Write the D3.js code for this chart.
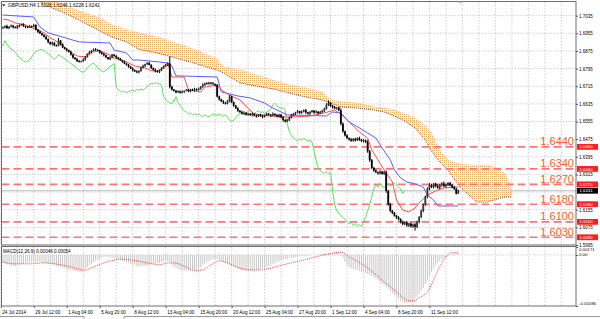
<!DOCTYPE html>
<html>
<head>
<meta charset="utf-8">
<script src="https://cdnjs.cloudflare.com/ajax/libs/d3/7.8.5/d3.min.js"></script>
<style>
body { margin: 0; background: #fff; }
svg { display: block; }
text { font-family: "Liberation Sans", Arial, sans-serif; }
</style>
</head>
<body>
<script>
// GBPUSD H4, 24 Jul - 12 Sep 2014

const closes = [
  1.6982,1.6988,1.6978,1.6985,1.6990,1.6983,1.6979,1.6986,1.6992,1.6996,
  1.6988,1.6984,1.6981,1.6987,1.6985,1.6992,1.6972,1.6962,1.6955,1.6948,
  1.6940,1.6928,1.6915,1.6906,1.6912,1.6900,1.6898,1.6922,1.6905,1.6892,
  1.6884,1.6878,1.6870,1.6858,1.6845,1.6838,1.6830,1.6826,1.6828,1.6836,
  1.6848,1.6862,1.6870,1.6876,1.6882,1.6880,1.6878,1.6868,1.6862,1.6856,
  1.6846,1.6838,1.6845,1.6858,1.6852,1.6846,1.6840,1.6832,1.6826,1.6818,
  1.6812,1.6804,1.6796,1.6788,1.6782,1.6778,1.6784,1.6800,1.6808,1.6815,
  1.6820,1.6812,1.6798,1.6790,1.6784,1.6780,1.6788,1.6796,1.6805,1.6810,
  1.6818,1.6712,1.6700,1.6694,1.6688,1.6692,1.6686,1.6690,1.6694,1.6698,
  1.6692,1.6700,1.6696,1.6702,1.6698,1.6704,1.6712,1.6722,1.6728,1.6726,
  1.6731,1.6728,1.6725,1.6720,1.6668,1.6655,1.6646,1.6640,1.6636,1.6648,
  1.6668,1.6642,1.6628,1.6615,1.6604,1.6598,1.6590,1.6594,1.6586,1.6590,
  1.6584,1.6590,1.6582,1.6578,1.6586,1.6580,1.6576,1.6584,1.6590,1.6586,
  1.6582,1.6590,1.6584,1.6578,1.6586,1.6574,1.6562,1.6556,1.6560,1.6574,
  1.6584,1.6590,1.6596,1.6602,1.6594,1.6600,1.6606,1.6596,1.6590,1.6598,
  1.6604,1.6596,1.6600,1.6592,1.6598,1.6604,1.6612,1.6630,1.6638,1.6626,
  1.6620,1.6614,1.6618,1.6606,1.6545,1.6510,1.6492,1.6480,1.6474,1.6468,
  1.6476,1.6470,1.6480,1.6472,1.6466,1.6470,1.6462,1.6420,1.6380,1.6345,
  1.6332,1.6325,1.6320,1.6328,1.6318,1.6325,1.6240,1.6180,1.6150,1.6140,
  1.6128,1.6120,1.6112,1.6100,1.6090,1.6098,1.6084,1.6092,1.6080,1.6088,
  1.6078,1.6100,1.6122,1.6150,1.6178,1.6215,1.6250,1.6268,1.6258,1.6272,
  1.6262,1.6255,1.6266,1.6274,1.6262,1.6268,1.6276,1.6266,1.6258,1.6250,
  1.6228,1.6241
];
const firstOpen = 1.6978;

// wick lengths in pips above / below the body
const hiWick = [
  4,3,6,2,5,3,4,7,3,3,5,2,4,6,3,5,4,3,6,2,
  3,5,4,2,6,3,4,12,3,5,2,4,3,6,3,2,5,4,3,6,
  4,2,5,3,4,6,3,2,5,4,3,2,6,4,3,5,2,4,3,5,
  3,4,2,5,3,6,4,3,5,2,4,6,3,2,5,4,3,5,4,6,
  5,32,6,3,4,5,3,6,2,4,5,3,4,6,3,5,4,6,3,5,
  4,3,6,2,5,4,3,6,4,5,7,3,4,2,5,3,6,4,3,5,
  4,6,3,5,2,4,6,3,5,4,3,6,2,5,4,3,5,4,6,3,
  5,4,3,6,2,5,4,6,3,5,4,3,6,2,5,4,6,8,12,5,
  4,6,3,5,8,6,4,5,3,6,4,5,3,6,4,5,3,8,6,5,
  4,6,3,5,4,6,7,5,6,4,5,3,6,4,5,3,6,4,5,4,
  6,5,4,6,5,4,6,7,5,4,6,8,5,6,9,5,4,6,5,6,
  4,5
];
const loWick = [
  3,5,2,4,3,6,2,4,5,3,4,6,3,2,5,3,4,6,3,5,
  4,2,5,3,6,4,3,2,5,4,3,6,2,4,5,3,6,4,3,2,
  5,3,4,6,2,4,3,5,4,6,3,2,5,4,3,6,4,2,5,3,
  4,5,3,6,2,4,5,3,4,6,3,2,5,4,6,3,5,4,2,3,
  4,7,5,3,6,4,5,3,6,2,4,5,3,6,4,3,5,4,6,3,
  4,5,3,6,4,5,3,6,4,3,5,4,6,3,5,4,3,6,4,5,
  3,6,4,5,3,4,6,3,5,4,6,3,5,4,6,5,8,6,4,3,
  5,4,6,3,5,4,3,6,4,5,3,6,4,5,3,4,6,3,5,4,
  6,3,5,4,8,6,5,4,6,5,4,6,3,5,4,6,5,7,8,6,
  5,4,6,5,4,6,8,7,6,5,4,6,5,7,6,5,6,8,6,7,
  18,6,7,5,6,5,8,6,5,7,6,5,8,6,5,7,6,5,6,5,
  4,0
];

// Ichimoku lines, [bar, price]
const tenkan = [
  [0,1.7020],[3,1.7015],[6,1.7002],[11,1.6993],[13,1.6984],[17,1.6970],[20,1.6957],
  [23,1.6934],[25,1.6925],[28,1.6907],[30,1.6889],[33,1.6870],[36,1.6852],[40,1.6848],
  [43,1.6870],[47,1.6875],[51,1.6861],[54,1.6843],[59,1.6830],[64,1.6807],[69,1.6798],
  [71,1.6789],[75,1.6780],[80,1.6820],[82,1.6757],[88,1.6757],[90,1.6698],[96,1.6689],
  [98,1.6711],[104,1.6721],[106,1.6698],[110,1.6675],[115,1.6653],[119,1.6616],
  [122,1.6589],[130,1.6580],[139,1.6575],[149,1.6580],[156,1.6594],[161,1.6607],
  [164,1.6589],[168,1.6553],[173,1.6508],[177,1.6480],[179,1.6426],[182,1.6381],
  [185,1.6335],[189,1.6281],[191,1.6199],[194,1.6154],[197,1.6145],[200,1.6163],
  [202,1.6186],[206,1.6222],[210,1.6240],[214,1.6254],[221,1.6258]
];
const kijun = [
  [0,1.7038],[15,1.7029],[18,1.6984],[22,1.6957],[29,1.6938],[37,1.6916],[52,1.6911],
  [54,1.6879],[60,1.6866],[63,1.6834],[66,1.6834],[76,1.6825],[80,1.6820],[82,1.6807],
  [84,1.6762],[104,1.6757],[106,1.6689],[114,1.6671],[120,1.6662],[127,1.6639],
  [131,1.6616],[138,1.6585],[157,1.6580],[160,1.6598],[164,1.6594],[168,1.6553],
  [173,1.6526],[177,1.6503],[181,1.6480],[184,1.6435],[188,1.6381],[190,1.6335],
  [193,1.6299],[196,1.6281],[200,1.6272],[204,1.6258],[206,1.6222],[209,1.6199],
  [211,1.6172],[221,1.6172]
];
const chikouShift = 26;

// cloud, [bar, upper, lower]
const cloud = [
  [13,1.7152,1.7120],[19,1.7129,1.7093],[23,1.7106,1.7074],[31,1.7079,1.7043],
  [37,1.7056,1.7015],[47,1.7025,1.6966],[53,1.6993,1.6938],[60,1.6970,1.6916],
  [66,1.6957,1.6882],[75,1.6938,1.6866],[82,1.6916,1.6848],[91,1.6889,1.6825],
  [99,1.6857,1.6802],[104,1.6839,1.6789],[107,1.6802,1.6775],[115,1.6789,1.6730],
  [123,1.6766,1.6716],[131,1.6743,1.6703],[139,1.6721,1.6684],[147,1.6707,1.6666],
  [155,1.6689,1.6653],[159,1.6653,1.6639],[164,1.6644,1.6621],[172,1.6639,1.6616],
  [180,1.6621,1.6607],[185,1.6616,1.6598],[190,1.6607,1.6580],[195,1.6589,1.6557],
  [200,1.6571,1.6526],[205,1.6535,1.6471],[208,1.6499,1.6421],[212,1.6426,1.6372],
  [216,1.6381,1.6335],[221,1.6363,1.6267],[226,1.6358,1.6222],[230,1.6354,1.6190],
  [235,1.6358,1.6190],[240,1.6344,1.6204],[244,1.6313,1.6213],[246,1.6267,1.6213],
  [247,1.6222,1.6213]
];

const levels = [1.6440, 1.6340, 1.6270, 1.6180, 1.6100, 1.6030];
const bid = 1.6241;

const priceTicks = [1.7035,1.6955,1.6875,1.6795,1.6715,1.6635,1.6555,1.6475,1.6395,1.6315,1.6235,1.6155,1.6075,1.5995];
const hiddenTick = 1.6235; // covered by the bid box
const dateBars = [-1,15,31,47,63,79,95,111,127,143,159,175,191,207];
const dateLabels = ['24 Jul 2014','29 Jul 12:00','1 Aug 04:00','5 Aug 20:00','8 Aug 12:00','13 Aug 04:00',
  '15 Aug 20:00','20 Aug 12:00','25 Aug 04:00','27 Aug 20:00','1 Sep 12:00','4 Sep 04:00','8 Sep 20:00','11 Sep 12:00'];

// MACD(12,26,9): histogram per bar, signal [bar, value]
const macdHist = [
  -0.0017,-0.0019,-0.0021,-0.0021,-0.0024,-0.0024,-0.0024,-0.0021,-0.0021,-0.0019,
  -0.0019,-0.0017,-0.0017,-0.0015,-0.0015,-0.0015,-0.0015,-0.0015,-0.0015,-0.0017,
  -0.0017,-0.0017,-0.0019,-0.0019,-0.0021,-0.0021,-0.0024,-0.0024,-0.0026,-0.0028,
  -0.0028,-0.0030,-0.0032,-0.0032,-0.0034,-0.0034,-0.0036,-0.0036,-0.0034,-0.0032,
  -0.0030,-0.0026,-0.0021,-0.0019,-0.0015,-0.0013,-0.0011,-0.0009,-0.0006,-0.0004,
  -0.0004,-0.0004,-0.0006,-0.0006,-0.0006,-0.0009,-0.0009,-0.0011,-0.0013,-0.0015,
  -0.0015,-0.0017,-0.0019,-0.0021,-0.0021,-0.0024,-0.0025,-0.0024,-0.0023,-0.0024,
  -0.0023,-0.0021,-0.0021,-0.0019,-0.0019,-0.0017,-0.0017,-0.0015,-0.0015,-0.0013,
  -0.0013,-0.0015,-0.0021,-0.0026,-0.0028,-0.0030,-0.0032,-0.0034,-0.0034,-0.0034,
  -0.0034,-0.0034,-0.0032,-0.0032,-0.0030,-0.0028,-0.0026,-0.0021,-0.0019,-0.0015,
  -0.0013,-0.0011,-0.0009,-0.0009,-0.0009,-0.0011,-0.0013,-0.0015,-0.0017,-0.0019,
  -0.0021,-0.0024,-0.0026,-0.0028,-0.0030,-0.0030,-0.0032,-0.0032,-0.0034,-0.0034,
  -0.0034,-0.0034,-0.0034,-0.0032,-0.0032,-0.0030,-0.0028,-0.0028,-0.0026,-0.0024,
  -0.0021,-0.0019,-0.0017,-0.0015,-0.0013,-0.0011,-0.0011,-0.0009,-0.0009,-0.0006,
  -0.0006,-0.0006,-0.0004,-0.0004,-0.0004,-0.0002,-0.0002,-0.0002,-0.0002,0,
  0,0,-0.0001,0.0001,0.0002,0.0002,0.0003,0.0003,0.0004,0.0004,
  0.0003,0.0003,0.0002,0,-0.0002,-0.0006,-0.0015,-0.0021,-0.0026,-0.0028,
  -0.0030,-0.0032,-0.0032,-0.0034,-0.0036,-0.0036,-0.0039,-0.0041,-0.0043,-0.0045,
  -0.0047,-0.0049,-0.0054,-0.0058,-0.0062,-0.0064,-0.0069,-0.0073,-0.0077,-0.0082,
  -0.0086,-0.0090,-0.0094,-0.0099,-0.0101,-0.0103,-0.0103,-0.0102,-0.0101,-0.0099,
  -0.0094,-0.0090,-0.0084,-0.0077,-0.0071,-0.0062,-0.0054,-0.0045,-0.0036,-0.0028,
  -0.0021,-0.0017,-0.0013,-0.0009,-0.0006,-0.0004,-0.0002,0,0.0002,0.0003,
  0.0004,0.00046
];
const macdSignal = [
  [0,-0.0015],[6,-0.0019],[13,-0.0019],[20,-0.0017],[28,-0.0021],[35,-0.0028],[39,-0.0033],
  [45,-0.0024],[52,-0.0013],[57,-0.0009],[63,-0.0011],[70,-0.0017],[76,-0.0021],[80,-0.0017],
  [83,-0.0017],[88,-0.0024],[93,-0.0033],[97,-0.0032],[101,-0.0021],[105,-0.0013],
  [110,-0.0019],[115,-0.0028],[120,-0.0032],[125,-0.0032],[130,-0.0028],[136,-0.0021],
  [144,-0.0013],[152,-0.0004],[160,0.0004],[164,0.0006],[168,-0.0004],[177,-0.0028],
  [184,-0.0054],[191,-0.0079],[196,-0.0097],[199,-0.0099],[202,-0.0092],[206,-0.0079],
  [209,-0.0054],[212,-0.0025],[215,-0.0004],[218,0.0005],[221,0.00054]
];
const macdMax = 0.00171, macdMin = -0.01096;

const width = 600;
const height = 319;
const left = 1.5, right = 576;
const mainTop = 2, mainBottom = 245;
const macdTop = 247, macdBottom = 306;

const x = d3.scaleLinear().domain([-1, 278]).range([0.8, 575.8]);
const y = d3.scaleLinear().domain([1.5995, 1.7097]).range([mainBottom, mainTop]);
const ym = d3.scaleLinear().domain([macdMin, macdMax]).range([macdBottom, macdTop]);

const svg = d3.select('body')
    .append('svg')
    .attr('width', width)
    .attr('height', height);

const defs = svg.append('defs');
defs.append('clipPath').attr('id', 'clipMain')
    .append('rect').attr('x', left).attr('y', mainTop).attr('width', right - left).attr('height', mainBottom - mainTop);
defs.append('clipPath').attr('id', 'clipMacd')
    .append('rect').attr('x', left).attr('y', macdTop).attr('width', right - left).attr('height', macdBottom - macdTop);
// dotted fill of the cloud
const pat = defs.append('pattern').attr('id', 'dots')
    .attr('width', 2).attr('height', 2).attr('patternUnits', 'userSpaceOnUse');
pat.append('rect').attr('x', 0).attr('y', 0).attr('width', 1).attr('height', 1).attr('fill', '#f5aa62');

// grid
const grid = svg.append('g')
    .attr('stroke', '#c4c4c4')
    .attr('stroke-width', 0.8)
    .attr('stroke-dasharray', '1.5,1.5');
const gridBars = d3.range(-1, 279, 8);
grid.selectAll('.vg1').data(gridBars).enter().append('line')
    .attr('x1', d => x(d)).attr('x2', d => x(d))
    .attr('y1', mainTop).attr('y2', mainBottom);
grid.selectAll('.vg2').data(gridBars).enter().append('line')
    .attr('x1', d => x(d)).attr('x2', d => x(d))
    .attr('y1', macdTop).attr('y2', macdBottom);
grid.selectAll('.hg').data(priceTicks).enter().append('line')
    .attr('x1', left).attr('x2', right)
    .attr('y1', d => y(d)).attr('y2', d => y(d));
grid.append('line')
    .attr('x1', left).attr('x2', right)
    .attr('y1', ym(0)).attr('y2', ym(0));

const main = svg.append('g').attr('clip-path', 'url(#clipMain)');

// cloud
main.append('path')
    .datum(cloud)
    .attr('fill', 'url(#dots)')
    .attr('d', d3.area().x(d => x(d[0])).y0(d => y(d[2])).y1(d => y(d[1])));
main.append('path')
    .datum(cloud)
    .attr('fill', 'none')
    .attr('stroke', '#f5aa62')
    .attr('stroke-width', 0.8)
    .attr('stroke-dasharray', '1,1')
    .attr('d', d3.line().x(d => x(d[0])).y(d => y(d[1])));
main.append('path')
    .datum(cloud)
    .attr('fill', 'none')
    .attr('stroke', '#3a3a3a')
    .attr('stroke-width', 0.9)
    .attr('stroke-dasharray', '1,1')
    .attr('d', d3.line().x(d => x(d[0])).y(d => y(d[2])));

// support / resistance levels
main.selectAll('.lvl').data(levels).enter().append('line')
    .attr('x1', left).attr('x2', right)
    .attr('y1', d => y(d)).attr('y2', d => y(d))
    .attr('stroke', '#ff7373')
    .attr('stroke-width', 1.6)
    .attr('stroke-dasharray', '8,4');

// bid line
main.append('line')
    .attr('x1', left).attr('x2', right)
    .attr('y1', y(bid)).attr('y2', y(bid))
    .attr('stroke', '#bdbdbd').attr('stroke-width', 1);

// chikou
main.append('path')
    .datum(closes)
    .attr('fill', 'none')
    .attr('stroke', '#55e355')
    .attr('stroke-width', 1)
    .attr('d', d3.line().x((d, i) => x(i - chikouShift)).y(d => y(d)));

main.append('path')
    .datum(kijun)
    .attr('fill', 'none')
    .attr('stroke', '#5c5cff')
    .attr('stroke-width', 1)
    .attr('d', d3.line().x(d => x(d[0])).y(d => y(d[1])));

main.append('path')
    .datum(tenkan)
    .attr('fill', 'none')
    .attr('stroke', '#ff4a4a')
    .attr('stroke-width', 1)
    .attr('d', d3.line().x(d => x(d[0])).y(d => y(d[1])));

// candles
const bars = closes.map((c, i) => {
    const o = i === 0 ? firstOpen : closes[i - 1];
    return {
        i: i, o: o, c: c,
        h: Math.max(o, c) + hiWick[i] * 1e-4,
        l: Math.min(o, c) - loWick[i] * 1e-4
    };
});
const cg = main.append('g');
cg.selectAll('.wick').data(bars).enter().append('line')
    .attr('x1', d => x(d.i)).attr('x2', d => x(d.i))
    .attr('y1', d => y(d.h)).attr('y2', d => y(d.l))
    .attr('stroke', '#000').attr('stroke-width', 1);
cg.selectAll('.body').data(bars).enter().append('rect')
    .attr('x', d => x(d.i) - 0.9)
    .attr('width', 1.8)
    .attr('y', d => y(Math.max(d.o, d.c)))
    .attr('height', d => Math.max(0.8, Math.abs(y(d.o) - y(d.c))))
    .attr('fill', d => d.c >= d.o ? '#3a3a3a' : '#000');

// level captions
svg.selectAll('.lvlText').data(levels).enter().append('text')
    .attr('x', 574)
    .attr('y', d => y(d) - 1.5)
    .attr('text-anchor', 'end')
    .attr('font-size', 11)
    .attr('fill', '#ff5a2a')
    .text(d => d.toFixed(4));

// MACD
const mg = svg.append('g').attr('clip-path', 'url(#clipMacd)');
mg.selectAll('.hist').data(macdHist).enter().append('rect')
    .attr('x', (d, i) => x(i) - 0.5)
    .attr('width', 1)
    .attr('y', d => Math.min(ym(d), ym(0)))
    .attr('height', d => Math.abs(ym(d) - ym(0)))
    .attr('fill', '#c8c8c8');
mg.append('path')
    .datum(macdSignal)
    .attr('fill', 'none')
    .attr('stroke', '#ff3c3c')
    .attr('stroke-width', 1)
    .attr('stroke-dasharray', '1,1')
    .attr('d', d3.line().curve(d3.curveMonotoneX).x(d => x(d[0])).y(d => ym(d[1])));

// frames
svg.append('rect')
    .attr('x', left).attr('y', 1.5).attr('width', right - left).attr('height', mainBottom - 1.5)
    .attr('fill', 'none').attr('stroke', '#6e6e6e').attr('stroke-width', 1);
svg.append('rect')
    .attr('x', left).attr('y', 246.5).attr('width', right - left).attr('height', macdBottom - 246.5)
    .attr('fill', 'none').attr('stroke', '#6e6e6e').attr('stroke-width', 1);

// price axis
const pAxis = svg.append('g')
    .attr('transform', 'translate(' + right + ',0)')
    .call(d3.axisRight(y).tickValues(priceTicks.filter(d => d !== hiddenTick))
        .tickFormat(d3.format('.4f')).tickSize(2).tickPadding(1));
pAxis.select('.domain').remove();
pAxis.attr('font-size', 4.5).attr('font-family', '"Liberation Sans", Arial, sans-serif');
pAxis.selectAll('line').attr('stroke', '#555');

// price boxes on the axis
svg.selectAll('.box').data(levels).enter().append('rect')
    .attr('x', 577).attr('y', d => y(d) - 2.9)
    .attr('width', 21).attr('height', 5.8)
    .attr('fill', '#ff1e1e');
svg.selectAll('.boxText').data(levels).enter().append('text')
    .attr('x', 579.5).attr('y', d => y(d) + 1.6)
    .attr('font-size', 4.3).attr('fill', '#fff')
    .text(d => d.toFixed(4));
svg.append('rect')
    .attr('x', 577).attr('y', y(bid) - 2.9)
    .attr('width', 21).attr('height', 5.8)
    .attr('fill', '#000');
svg.append('text')
    .attr('x', 579.5).attr('y', y(bid) + 1.6)
    .attr('font-size', 4.3).attr('fill', '#fff')
    .text(bid.toFixed(4));

// MACD axis
const mAxis = svg.append('g')
    .attr('transform', 'translate(' + right + ',0)')
    .call(d3.axisRight(ym).tickValues([macdMax, 0, macdMin])
        .tickFormat(d => d === 0 ? '0.00' : d.toFixed(5)).tickSize(2).tickPadding(1));
mAxis.select('.domain').remove();
mAxis.attr('font-size', 4.3).attr('font-family', '"Liberation Sans", Arial, sans-serif');
mAxis.selectAll('line').attr('stroke', '#555');
mAxis.selectAll('text').attr('dy', (d, i) => [3.6, 0.2, -1.6][i]);

// time axis
const tAxis = svg.append('g')
    .attr('transform', 'translate(0,' + macdBottom + ')')
    .call(d3.axisBottom(x).tickValues(dateBars).tickFormat((d, i) => dateLabels[i]).tickSize(2).tickPadding(3));
tAxis.select('.domain').remove();
tAxis.attr('font-size', 4.6).attr('font-family', '"Liberation Sans", Arial, sans-serif');
tAxis.selectAll('line').attr('stroke', '#555');
tAxis.selectAll('text').attr('text-anchor', 'start').attr('dx', 1);

// header and MACD caption
svg.append('path').attr('d', 'M2,4.2 L5.4,4.2 L3.7,6.6 Z').attr('fill', '#333');
svg.append('text')
    .attr('x', 8).attr('y', 7.4)
    .attr('font-size', 4.8)
    .text('GBPUSD,H4  1.6228 1.6246 1.6228 1.6241');
svg.append('text')
    .attr('x', 3).attr('y', 253.2)
    .attr('font-size', 4.6)
    .text('MACD(12,26,9) 0.00046 0.00054');

// chart shift marker
svg.append('path').attr('d', 'M458.5,1.5 L462,1.5 L460.2,3.6 Z').attr('fill', '#999');

// tab strip
svg.append('path')
    .attr('d', 'M0,316.5 H84 V319 M124,319 V316.5 H600')
    .attr('fill', 'none').attr('stroke', '#9a9a9a').attr('stroke-width', 1);
</script>
</body>
</html>
